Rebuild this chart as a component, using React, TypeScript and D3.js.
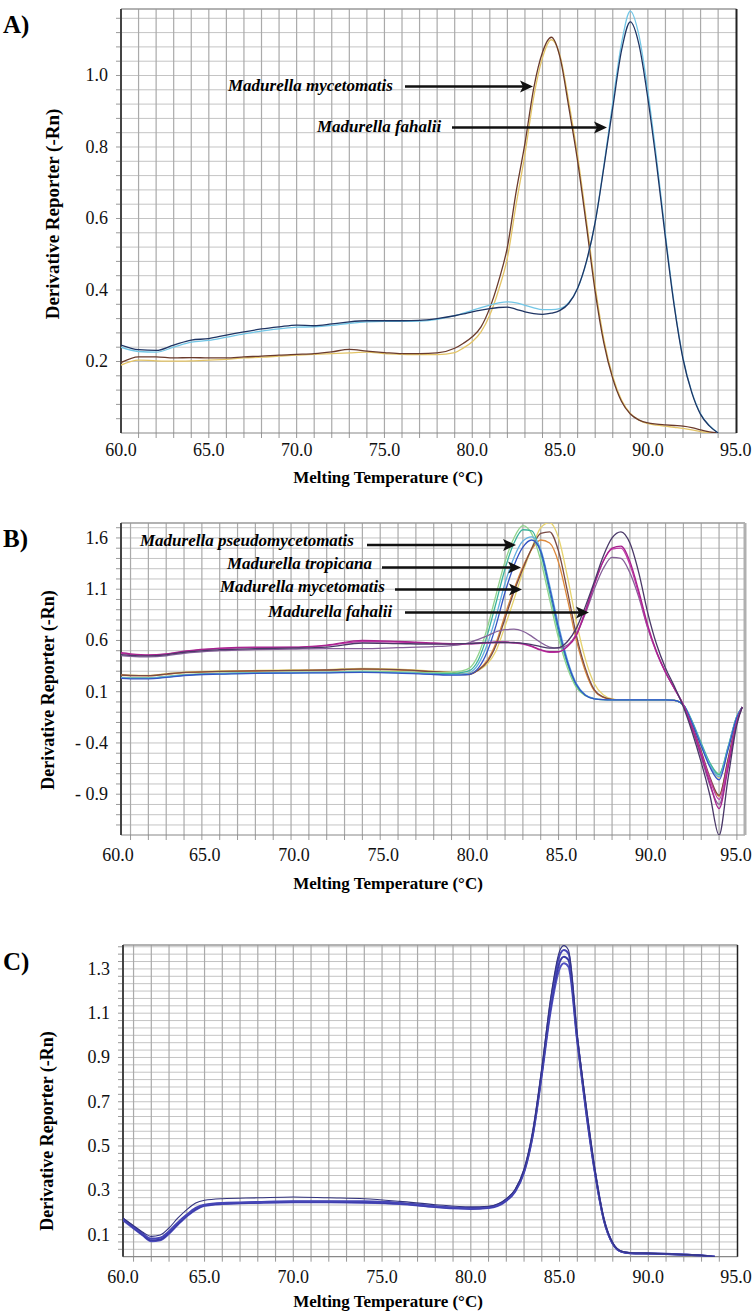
import React, { useRef, useEffect } from 'react';
import * as d3 from 'd3';

// ---------- Panel A ----------
const tempsA = [60, 61, 62, 63, 64, 65, 66, 67, 68, 69, 70, 71, 72, 73, 74, 75, 76, 77, 78, 79,
  79.5, 80, 80.5, 81, 81.5, 82, 82.5, 83, 83.5, 84, 84.5, 85, 85.5, 86, 86.5, 87, 87.5, 88, 88.5, 89,
  89.5, 90, 90.5, 91, 91.5, 92, 92.5, 93, 93.5, 94];
const fahaliiNavyA = [0.246, 0.233, 0.231, 0.246, 0.26, 0.264, 0.274, 0.283, 0.291, 0.297, 0.302, 0.3, 0.305, 0.311, 0.314, 0.314, 0.314, 0.315, 0.32, 0.328,
  0.333, 0.339, 0.344, 0.348, 0.351, 0.352, 0.346, 0.339, 0.334, 0.332, 0.335, 0.343, 0.363, 0.405, 0.48, 0.59, 0.745, 0.91, 1.07, 1.15,
  1.085, 0.935, 0.75, 0.545, 0.355, 0.207, 0.113, 0.052, 0.02, 0.0];
const fahaliiCyanA = [0.24, 0.228, 0.226, 0.24, 0.254, 0.259, 0.268, 0.277, 0.285, 0.291, 0.296, 0.297, 0.301, 0.307, 0.311, 0.312, 0.312, 0.313, 0.318, 0.328,
  0.335, 0.343, 0.351, 0.358, 0.364, 0.367, 0.364, 0.357, 0.35, 0.345, 0.345, 0.348, 0.365, 0.405, 0.478, 0.59, 0.75, 0.925, 1.09, 1.18,
  1.11, 0.955, 0.765, 0.555, 0.36, 0.21, 0.115, 0.054, 0.021, 0.0];
const mycetomatisBrownA = [0.197, 0.213, 0.213, 0.21, 0.211, 0.21, 0.21, 0.213, 0.215, 0.218, 0.22, 0.222, 0.227, 0.234, 0.229, 0.225, 0.222, 0.222, 0.224, 0.237,
  0.251, 0.269, 0.297, 0.35, 0.425, 0.52, 0.675, 0.81, 0.965, 1.065, 1.107, 1.05, 0.91, 0.76, 0.58, 0.395, 0.25, 0.152, 0.088, 0.053,
  0.036, 0.028, 0.025, 0.023, 0.021, 0.019, 0.015, 0.009, 0.003, 0.0];
const mycetomatisYellowA = [0.19, 0.204, 0.202, 0.201, 0.202, 0.204, 0.206, 0.21, 0.212, 0.215, 0.218, 0.22, 0.222, 0.224, 0.226, 0.222, 0.22, 0.219, 0.219, 0.225,
  0.238, 0.255, 0.283, 0.33, 0.4, 0.49, 0.64, 0.78, 0.94, 1.05, 1.1, 1.055, 0.925, 0.775, 0.595, 0.41, 0.26, 0.158, 0.092, 0.055,
  0.036, 0.026, 0.022, 0.019, 0.016, 0.013, 0.009, 0.004, 0.001, 0.0];
const yTicksA = [0.2, 0.4, 0.6, 0.8, 1.0];
const yLabelsA = ['0.2', '0.4', '0.6', '0.8', '1.0'];

// ---------- Panel B ----------
const tempsB = [60, 61, 62, 63, 64, 66, 68, 70, 72, 74, 76, 78,
  79, 79.5, 80, 80.5, 81, 81.5, 82, 82.5, 83, 83.5, 84, 84.5, 85, 85.5, 86, 86.5, 87, 87.5, 88, 88.5,
  89, 89.5, 90, 90.5, 91, 91.5, 92, 92.5, 93, 93.5, 94, 94.5, 95, 95.3];
const pseudoGreenB = [0.245, 0.236, 0.236, 0.25, 0.266, 0.28, 0.285, 0.29, 0.292, 0.3, 0.295, 0.285,
  0.29, 0.3, 0.33, 0.46, 0.72, 1.05, 1.37, 1.6, 1.72, 1.64, 1.38, 1.0, 0.62, 0.33, 0.14, 0.06, 0.03, 0.022, 0.02, 0.02,
  0.02, 0.02, 0.02, 0.02, 0.02, 0.015, -0.03, -0.2, -0.42, -0.6, -0.7, -0.45, -0.14, -0.05];
const pseudoTealB = [0.238, 0.23, 0.23, 0.244, 0.26, 0.275, 0.281, 0.285, 0.287, 0.291, 0.287, 0.276,
  0.275, 0.285, 0.305, 0.41, 0.65, 0.97, 1.3, 1.55, 1.68, 1.67, 1.45, 1.07, 0.68, 0.37, 0.16, 0.065, 0.032, 0.022, 0.02, 0.02,
  0.02, 0.02, 0.02, 0.02, 0.02, 0.015, -0.03, -0.19, -0.4, -0.6, -0.71, -0.44, -0.14, -0.05];
const tropicanaBlueB = [0.235, 0.226, 0.226, 0.24, 0.258, 0.272, 0.278, 0.282, 0.284, 0.288, 0.282, 0.268,
  0.262, 0.262, 0.27, 0.33, 0.49, 0.75, 1.07, 1.33, 1.51, 1.58, 1.47, 1.11, 0.72, 0.39, 0.17, 0.065, 0.03, 0.022, 0.02, 0.02,
  0.02, 0.02, 0.02, 0.02, 0.02, 0.015, -0.03, -0.21, -0.43, -0.64, -0.76, -0.47, -0.15, -0.05];
const tropicanaSkyB = [0.242, 0.233, 0.233, 0.247, 0.262, 0.276, 0.282, 0.286, 0.288, 0.292, 0.286, 0.272,
  0.266, 0.27, 0.285, 0.37, 0.56, 0.84, 1.16, 1.41, 1.57, 1.61, 1.49, 1.14, 0.75, 0.41, 0.18, 0.07, 0.032, 0.022, 0.02, 0.02,
  0.02, 0.02, 0.02, 0.02, 0.02, 0.015, -0.03, -0.2, -0.42, -0.62, -0.73, -0.45, -0.14, -0.05];
const mycetomatisBrownB = [0.27, 0.258, 0.256, 0.272, 0.288, 0.298, 0.303, 0.308, 0.312, 0.322, 0.315, 0.295,
  0.285, 0.27, 0.268, 0.31, 0.39, 0.555, 0.815, 1.075, 1.3, 1.5, 1.645, 1.66, 1.47, 1.08, 0.65, 0.33, 0.12, 0.05, 0.026, 0.02,
  0.02, 0.02, 0.02, 0.02, 0.02, 0.015, -0.03, -0.23, -0.48, -0.74, -0.91, -0.56, -0.17, -0.05];
const mycetomatisOrangeB = [0.268, 0.256, 0.255, 0.27, 0.286, 0.296, 0.302, 0.306, 0.31, 0.318, 0.312, 0.292,
  0.28, 0.272, 0.272, 0.315, 0.405, 0.58, 0.85, 1.1, 1.32, 1.49, 1.58, 1.55, 1.36, 1.0, 0.6, 0.3, 0.11, 0.045, 0.025, 0.02,
  0.02, 0.02, 0.02, 0.02, 0.02, 0.015, -0.03, -0.24, -0.5, -0.76, -0.92, -0.57, -0.17, -0.05];
const mycetomatisYellowB = [0.275, 0.262, 0.26, 0.276, 0.292, 0.302, 0.307, 0.312, 0.316, 0.328, 0.32, 0.3,
  0.29, 0.28, 0.28, 0.31, 0.37, 0.5, 0.74, 1.0, 1.27, 1.5, 1.7, 1.75, 1.6, 1.22, 0.78, 0.42, 0.18, 0.07, 0.03, 0.021,
  0.02, 0.02, 0.02, 0.02, 0.02, 0.015, -0.03, -0.2, -0.42, -0.62, -0.74, -0.45, -0.14, -0.05];
const fahaliiDarkB = [0.47, 0.455, 0.45, 0.46, 0.485, 0.51, 0.52, 0.525, 0.535, 0.575, 0.57, 0.565,
  0.565, 0.568, 0.57, 0.575, 0.578, 0.58, 0.58, 0.578, 0.572, 0.56, 0.54, 0.525, 0.53, 0.59, 0.72, 0.93, 1.17, 1.42, 1.6, 1.66,
  1.55, 1.26, 0.87, 0.56, 0.33, 0.15, -0.05, -0.3, -0.59, -0.92, -1.3, -0.75, -0.22, -0.05];
const fahaliiMagentaB = [0.49, 0.47, 0.46, 0.47, 0.495, 0.525, 0.535, 0.535, 0.555, 0.6, 0.59, 0.575,
  0.57, 0.57, 0.57, 0.575, 0.58, 0.585, 0.585, 0.58, 0.57, 0.545, 0.51, 0.49, 0.49, 0.54, 0.65, 0.88, 1.14, 1.37, 1.5, 1.52,
  1.37, 1.08, 0.75, 0.49, 0.29, 0.13, -0.03, -0.26, -0.52, -0.8, -1.04, -0.65, -0.2, -0.05];
const fahaliiPinkB = [0.48, 0.462, 0.455, 0.466, 0.49, 0.52, 0.53, 0.532, 0.55, 0.59, 0.585, 0.57,
  0.565, 0.565, 0.567, 0.57, 0.575, 0.58, 0.58, 0.575, 0.565, 0.54, 0.505, 0.485, 0.49, 0.545, 0.66, 0.89, 1.15, 1.37, 1.49, 1.5,
  1.34, 1.05, 0.73, 0.48, 0.285, 0.13, -0.03, -0.25, -0.5, -0.76, -0.95, -0.6, -0.19, -0.05];
const fahaliiPurpleB = [0.46, 0.445, 0.44, 0.45, 0.475, 0.5, 0.51, 0.515, 0.52, 0.52, 0.53, 0.54,
  0.55, 0.56, 0.58, 0.61, 0.645, 0.685, 0.705, 0.71, 0.69, 0.64, 0.58, 0.535, 0.525, 0.555, 0.66, 0.86, 1.1, 1.3, 1.41, 1.4,
  1.26, 1.02, 0.72, 0.48, 0.29, 0.13, -0.03, -0.27, -0.54, -0.82, -1.0, -0.62, -0.19, -0.05];
const yTicksB = [1.6, 1.1, 0.6, 0.1, -0.4, -0.9];
const yLabelsB = ['1.6', '1.1', '0.6', '0.1', '- 0.4', '- 0.9'];

// ---------- Panel C ----------
const tempsC = [60.4, 61, 61.5, 62, 62.5, 63, 63.5, 64, 64.5, 65, 66, 68, 70, 72, 74, 76, 78, 80,
  81, 82, 82.5, 83, 83.5, 84, 84.5, 85, 85.25, 85.5, 86, 86.5, 87, 87.5, 88, 88.5, 89, 90, 91, 92, 93, 93.75];
const isolate1C = [0.175, 0.14, 0.112, 0.092, 0.098, 0.13, 0.175, 0.213, 0.243, 0.255, 0.262, 0.266, 0.27, 0.266, 0.262, 0.25, 0.235, 0.225,
  0.228, 0.262, 0.305, 0.395, 0.57, 0.85, 1.17, 1.38, 1.405, 1.385, 1.0, 0.68, 0.39, 0.17, 0.062, 0.025, 0.018, 0.016, 0.013, 0.01, 0.006, 0.0];
const isolate2C = [0.172, 0.136, 0.106, 0.082, 0.086, 0.115, 0.155, 0.19, 0.22, 0.235, 0.243, 0.247, 0.25, 0.25, 0.25, 0.243, 0.228, 0.22,
  0.224, 0.258, 0.3, 0.39, 0.565, 0.84, 1.15, 1.36, 1.385, 1.37, 0.99, 0.67, 0.385, 0.168, 0.06, 0.023, 0.017, 0.015, 0.013, 0.01, 0.006, 0.0];
const isolate3C = [0.168, 0.132, 0.1, 0.074, 0.078, 0.108, 0.148, 0.185, 0.215, 0.232, 0.24, 0.245, 0.248, 0.248, 0.246, 0.24, 0.226, 0.218,
  0.222, 0.255, 0.297, 0.385, 0.555, 0.83, 1.13, 1.33, 1.355, 1.34, 0.98, 0.66, 0.38, 0.166, 0.058, 0.022, 0.016, 0.014, 0.012, 0.009, 0.005, 0.0];
const isolate4C = [0.165, 0.128, 0.097, 0.07, 0.074, 0.104, 0.145, 0.183, 0.212, 0.23, 0.238, 0.243, 0.246, 0.246, 0.244, 0.238, 0.224, 0.216,
  0.22, 0.252, 0.294, 0.38, 0.55, 0.82, 1.11, 1.30, 1.325, 1.31, 0.97, 0.65, 0.375, 0.164, 0.058, 0.022, 0.016, 0.014, 0.012, 0.009, 0.005, 0.0];
const yTicksC = [1.3, 1.1, 0.9, 0.7, 0.5, 0.3, 0.1];
const yLabelsC = ['1.3', '1.1', '0.9', '0.7', '0.5', '0.3', '0.1'];

const xTicks = [60, 65, 70, 75, 80, 85, 90, 95];
const xLabels = ['60.0', '65.0', '70.0', '75.0', '80.0', '85.0', '90.0', '95.0'];
const xGridTemps = [61, 62, 63, 64, 65, 66, 67, 68, 69, 70, 71, 72, 73, 74, 75, 76, 77, 78, 79, 80,
  81, 82, 83, 84, 85, 86, 87, 88, 89, 90, 91, 92, 93, 94, 95];

const SERIF = '"Liberation Serif", "Times New Roman", serif';

interface Series { color: string; values: number[]; width?: number }
interface Note { text: string; x: number; y: number; ax1: number; ax2: number; ay: number }
interface Panel {
  id: string;
  letter: string; letterY: number;
  left: number; right: number; top: number; bottom: number;
  xDomain: [number, number]; xRange: [number, number];
  yDomain: [number, number];
  hGrid: number[];
  xLabelY: number; xLabelShift: number; xLabelMin: number; xLabelMax: number;
  yTicks: number[]; yLabels: string[]; yLabelX: number;
  xTitleY: number; yTitleX: number; yTitleY: number; yTitleSize: number;
  rightColor: string; rightWidth: number;
  temps: number[]; series: Series[];
  notes: Note[];
}

const panels: Panel[] = [
  {
    id: 'A', letter: 'A)', letterY: 33,
    left: 121, right: 736.5, top: 9, bottom: 433,
    xDomain: [60, 95], xRange: [121, 735.7],
    yDomain: [0, 1.186],
    hGrid: d3.range(1, 30).map(i => i * 0.04),
    xLabelY: 456, xLabelShift: 0, xLabelMin: 0, xLabelMax: 736,
    yTicks: yTicksA, yLabels: yLabelsA, yLabelX: 108,
    xTitleY: 483, yTitleX: 52, yTitleY: 214, yTitleSize: 19,
    rightColor: '#222', rightWidth: 2,
    temps: tempsA,
    series: [
      { color: '#e3c466', values: mycetomatisYellowA },
      { color: '#6a3a2c', values: mycetomatisBrownA },
      { color: '#72c6e6', values: fahaliiCyanA },
      { color: '#1e3463', values: fahaliiNavyA },
    ],
    notes: [
      { text: 'Madurella mycetomatis', x: 228, y: 91, ax1: 405, ax2: 533, ay: 86.5 },
      { text: 'Madurella fahalii', x: 317, y: 132, ax1: 452, ax2: 607, ay: 127.5 },
    ],
  },
  {
    id: 'B', letter: 'B)', letterY: 547,
    left: 121, right: 745, top: 523, bottom: 835,
    xDomain: [60, 95], xRange: [112.7, 736.9],
    yDomain: [-1.298, 1.746],
    hGrid: d3.range(-12, 18).map(i => i * 0.1),
    xLabelY: 861, xLabelShift: 3, xLabelMin: 118, xLabelMax: 736,
    yTicks: yTicksB, yLabels: yLabelsB, yLabelX: 108,
    xTitleY: 889, yTitleX: 48, yTitleY: 690, yTitleSize: 18,
    rightColor: '#b0b0b0', rightWidth: 3,
    temps: tempsB,
    series: [
      { color: '#e7d36e', values: mycetomatisYellowB },
      { color: '#de8a3c', values: mycetomatisOrangeB },
      { color: '#7a4a44', values: mycetomatisBrownB },
      { color: '#92d48c', values: pseudoGreenB },
      { color: '#3cb49c', values: pseudoTealB },
      { color: '#62aee0', values: tropicanaSkyB },
      { color: '#3454c4', values: tropicanaBlueB },
      { color: '#86619a', values: fahaliiPurpleB },
      { color: '#c23aa8', values: fahaliiPinkB },
      { color: '#a8228f', values: fahaliiMagentaB },
      { color: '#4a3868', values: fahaliiDarkB },
    ],
    notes: [
      { text: 'Madurella pseudomycetomatis', x: 140, y: 546, ax1: 367, ax2: 516, ay: 545 },
      { text: 'Madurella tropicana', x: 227, y: 569, ax1: 382, ax2: 521, ay: 567.5 },
      { text: 'Madurella mycetomatis', x: 220, y: 592, ax1: 395, ax2: 522, ay: 589.5 },
      { text: 'Madurella fahalii', x: 268, y: 617, ax1: 405, ax2: 589, ay: 612.5 },
    ],
  },
  {
    id: 'C', letter: 'C)', letterY: 970,
    left: 123, right: 737.5, top: 945, bottom: 1256.7,
    xDomain: [60, 95], xRange: [115.8, 737.05],
    yDomain: [0, 1.408],
    hGrid: d3.range(1, 43).map(i => i * 0.0333333),
    xLabelY: 1283, xLabelShift: 0, xLabelMin: 123, xLabelMax: 736,
    yTicks: yTicksC, yLabels: yLabelsC, yLabelX: 110,
    xTitleY: 1307, yTitleX: 47, yTitleY: 1131, yTitleSize: 18,
    rightColor: '#222', rightWidth: 1.5,
    temps: tempsC,
    series: [
      { color: '#5252c2', values: isolate4C, width: 2 },
      { color: '#3a3aa6', values: isolate3C, width: 2 },
      { color: '#4646b8', values: isolate2C, width: 2 },
      { color: '#33337f', values: isolate1C, width: 1.1 },
    ],
    notes: [],
  },
];

function drawPanel(svg: d3.Selection<SVGSVGElement, unknown, null, undefined>, p: Panel) {
  const x = d3.scaleLinear().domain(p.xDomain).range(p.xRange);
  const y = d3.scaleLinear().domain(p.yDomain).range([p.bottom, p.top]);
  const g = svg.append('g');

  // clip region for the curves
  const clipId = `clip-${p.id}`;
  g.append('clipPath').attr('id', clipId)
    .append('rect')
    .attr('x', p.left).attr('y', p.top)
    .attr('width', p.right - p.left).attr('height', p.bottom - p.top);

  // horizontal grid + small ticks at the left
  const hGrid = p.hGrid.filter(v => y(v) > p.top + 1 && y(v) < p.bottom - 1);
  g.selectAll('line.hg').data(hGrid).join('line')
    .attr('x1', p.left).attr('x2', p.right)
    .attr('y1', d => y(d)).attr('y2', d => y(d))
    .attr('stroke', '#c4c4c4').attr('stroke-width', 1);
  g.selectAll('line.ht').data(hGrid).join('line')
    .attr('x1', p.left - 5).attr('x2', p.left)
    .attr('y1', d => y(d)).attr('y2', d => y(d))
    .attr('stroke', '#999').attr('stroke-width', 1);

  // vertical grid + small ticks at the bottom
  const vGrid = xGridTemps.filter(t => x(t) > p.left + 2 && x(t) < p.right - 2);
  g.selectAll('line.vg').data(vGrid).join('line')
    .attr('x1', d => x(d)).attr('x2', d => x(d))
    .attr('y1', p.top).attr('y2', p.bottom)
    .attr('stroke', '#aaa').attr('stroke-width', 1.2);
  g.selectAll('line.vt').data(vGrid).join('line')
    .attr('x1', d => x(d)).attr('x2', d => x(d))
    .attr('y1', p.bottom).attr('y2', p.bottom + 5)
    .attr('stroke', '#999').attr('stroke-width', 1);

  // frame
  g.append('line').attr('x1', p.left).attr('x2', p.right).attr('y1', p.top).attr('y2', p.top)
    .attr('stroke', '#999').attr('stroke-width', 1.5);
  g.append('line').attr('x1', p.left).attr('x2', p.right).attr('y1', p.bottom).attr('y2', p.bottom)
    .attr('stroke', '#888').attr('stroke-width', 1.2);
  g.append('line').attr('x1', p.right).attr('x2', p.right).attr('y1', p.top).attr('y2', p.bottom)
    .attr('stroke', p.rightColor).attr('stroke-width', p.rightWidth);
  g.append('line').attr('x1', p.left).attr('x2', p.left).attr('y1', p.top).attr('y2', p.bottom)
    .attr('stroke', '#444').attr('stroke-width', 2);

  // curves
  const line = d3.line<number>()
    .x((_, i) => x(p.temps[i]))
    .y(d => y(d))
    .curve(d3.curveMonotoneX);
  g.append('g').attr('clip-path', `url(#${clipId})`)
    .selectAll('path').data(p.series).join('path')
    .attr('fill', 'none')
    .attr('stroke', d => d.color)
    .attr('stroke-width', d => d.width ?? 1.3)
    .attr('d', d => line(d.values));

  // tick labels
  g.selectAll('text.xl').data(xTicks).join('text')
    .attr('x', d => Math.min(Math.max(x(d) + p.xLabelShift, p.xLabelMin), p.xLabelMax))
    .attr('y', p.xLabelY)
    .attr('text-anchor', 'middle')
    .attr('font-family', SERIF).attr('font-size', 18).attr('fill', '#111')
    .text((_, i) => xLabels[i]);
  g.selectAll('text.yl').data(p.yTicks).join('text')
    .attr('x', p.yLabelX)
    .attr('y', d => y(d) + 6)
    .attr('text-anchor', 'end')
    .attr('font-family', SERIF).attr('font-size', 18).attr('fill', '#111')
    .text((_, i) => p.yLabels[i]);

  // axis titles
  g.append('text')
    .attr('x', 388).attr('y', p.xTitleY)
    .attr('text-anchor', 'middle')
    .attr('font-family', SERIF).attr('font-size', 17).attr('font-weight', 'bold')
    .text('Melting Temperature (°C)');
  g.append('text')
    .attr('transform', `translate(${p.yTitleX},${p.yTitleY}) rotate(-90)`)
    .attr('text-anchor', 'middle').attr('dy', '0.35em')
    .attr('font-family', SERIF).attr('font-size', p.yTitleSize).attr('font-weight', 'bold')
    .text('Derivative Reporter (-Rn)');

  // panel letter
  g.append('text')
    .attr('x', 3).attr('y', p.letterY)
    .attr('font-family', SERIF).attr('font-size', 25).attr('font-weight', 'bold')
    .text(p.letter);

  // species annotations with arrows
  const notes = g.append('g');
  p.notes.forEach(n => {
    notes.append('text')
      .attr('x', n.x).attr('y', n.y)
      .attr('font-family', SERIF).attr('font-size', 17)
      .attr('font-weight', 'bold').attr('font-style', 'italic')
      .text(n.text);
    notes.append('line')
      .attr('x1', n.ax1).attr('x2', n.ax2 - 10)
      .attr('y1', n.ay).attr('y2', n.ay)
      .attr('stroke', '#111').attr('stroke-width', 2.6);
    notes.append('path')
      .attr('d', `M${n.ax2},${n.ay} L${n.ax2 - 13},${n.ay - 6} L${n.ax2 - 10},${n.ay} L${n.ax2 - 13},${n.ay + 6} Z`)
      .attr('fill', '#111');
  });
}

const App: React.FC = () => {
  const svgRef = useRef<SVGSVGElement | null>(null);

  useEffect(() => {
    if (!svgRef.current) return;
    const svg = d3.select(svgRef.current);
    svg.selectAll('*').remove();
    panels.forEach(p => drawPanel(svg, p));
  }, []);

  return (
    <svg
      ref={svgRef}
      width={754}
      height={1311}
      style={{ position: 'absolute', left: 0, top: 0, background: '#fff' }}
    />
  );
};

export default App;
